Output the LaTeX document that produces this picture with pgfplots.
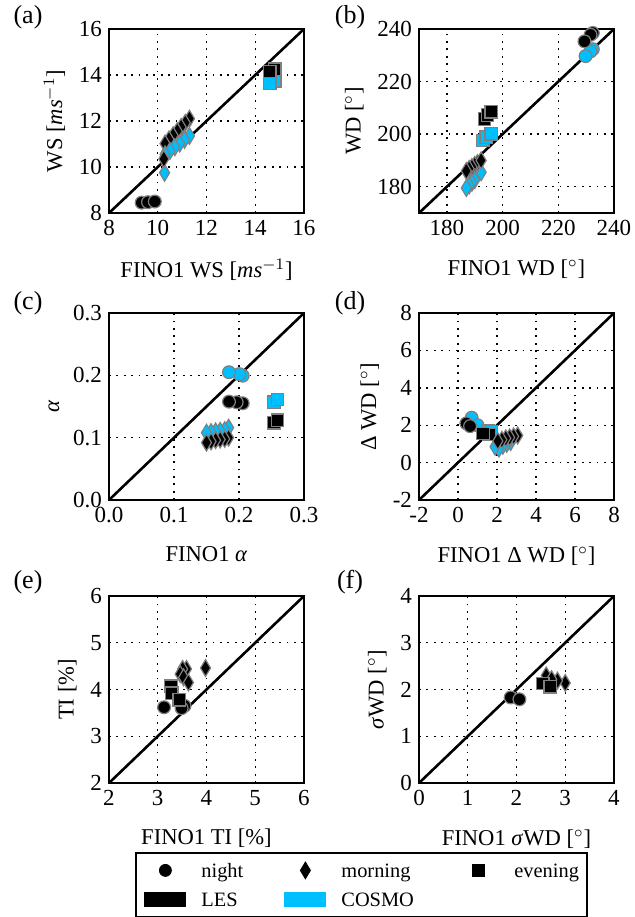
\documentclass[border=0pt]{standalone}
\usepackage{fontspec}
\setmainfont{Liberation Serif}
\usepackage{pgfplots}
\pgfplotsset{compat=1.18}
\definecolor{cosmo}{RGB}{0,191,255}
\pgfplotsset{
  panel/.style={scale only axis, width=97.5pt,
    axis line style={line width=1.4pt},
    grid=major, grid style={black, line width=0.7pt, dash pattern=on 0.9pt off 2.8pt},
    major tick length=0pt,
    tick label style={font=\fontsize{11.5}{13}\selectfont},
    label style={font=\fontsize{11.3}{13}\selectfont},
    xlabel style={yshift=-5pt},
    /pgf/number format/assume math mode=true},
  night/.style={only marks, mark=*, mark size=3.2pt, mark options={draw=black!50, line width=0.6pt, fill=#1}},
  morn/.style={only marks, mark=diamond*, mark size=4.2pt, mark options={draw=black!50, line width=0.6pt, fill=#1, xscale=0.8}},
  eve/.style={only marks, mark=square*, mark size=3.1pt, mark options={draw=black!50, line width=0.6pt, fill=#1}},
  diag/.style={black, line width=1.3pt, no marks},
}
\begin{document}
\begin{tikzpicture}
\path[use as bounding box] (0pt,0pt) rectangle (317pt,-458.5pt);
% panel labels
\begin{scope}[every node/.style={font=\fontsize{13}{15}\selectfont}]
\node at (14pt,-8.5pt) {(a)};
\node at (175pt,-8.5pt) {(b)};
\node at (14pt,-151.5pt) {(c)};
\node at (175pt,-151.5pt) {(d)};
\node at (14pt,-291pt) {(e)};
\node at (175pt,-291pt) {(f)};
\end{scope}
% (a)
\begin{axis}[panel, at={(54.5pt,-106.5pt)}, anchor=south west, height=92pt,
  xmin=8, xmax=16, ymin=8, ymax=16, xtick={8,10,...,16}, ytick={8,10,...,16},
  xlabel={FINO1 WS [\textit{ms}$^{-1}$]}, ylabel={WS [\textit{ms}$^{-1}$]}]
\addplot[night=black] coordinates {(9.34,8.45) (9.6,8.47) (9.88,8.5)};
\addplot[morn=black] coordinates {(11.3,12.1) (11.13,11.92) (10.96,11.74) (10.8,11.56) (10.63,11.38) (10.46,11.2) (10.3,11.02)};
\addplot[morn=cosmo] coordinates {(11.3,11.35) (11.1,11.18) (10.9,11.02) (10.7,10.86) (10.5,10.7) (10.3,10.55) (10.28,9.75)};
\addplot[morn=black] coordinates {(10.25,10.35)};
\addplot[eve=cosmo] coordinates {(14.8,13.75) (14.6,13.65)};
\addplot[eve=black] coordinates {(14.8,14.25) (14.6,14.15)};
\addplot[diag] coordinates {(8,8) (16,16)};
\end{axis}
% (b)
\begin{axis}[panel, at={(209.5pt,-106.5pt)}, anchor=south west, height=92pt,
  xmin=170, xmax=240, ymin=170, ymax=240, xtick={180,200,...,240}, ytick={180,200,...,240},
  xlabel={FINO1 WD [$^\circ$]}, ylabel={WD [$^\circ$]}]
\addplot[night=cosmo] coordinates {(232.4,232.3) (231.6,231.5) (229.8,229.7)};
\addplot[night=black] coordinates {(232.4,238.5) (231.6,237.8) (229.4,235.3)};
\addplot[eve=cosmo] coordinates {(192.9,197.6) (194.1,198.9) (195.9,200.1)};
\addplot[eve=black] coordinates {(193.5,205.8) (194.6,207.3) (195.9,208.5)};
\addplot[morn=cosmo] coordinates {(192.3,185.5) (190,182.5) (189,181.5) (188,180.5) (187,179.5)};
\addplot[morn=black] coordinates {(191,189) (190,188.3) (189,187.5) (188,186.8) (187,186) (192.3,190)};
\addplot[diag] coordinates {(170,170) (240,240)};
\end{axis}
% (c)
\begin{axis}[panel, at={(54.5pt,-250pt)}, anchor=south west, height=93.5pt,
  xmin=0, xmax=0.3, ymin=0, ymax=0.3, xtick={0,0.1,0.2,0.3}, ytick={0,0.1,0.2,0.3},
  /pgf/number format/.cd, fixed, fixed zerofill, precision=1, /pgfplots/.cd,
  xlabel={FINO1 \textit{α}}, ylabel={\textit{α}}]
\addplot[night=cosmo] coordinates {(0.2057,0.1995) (0.2005,0.202) (0.1846,0.205)};
\addplot[night=black] coordinates {(0.2057,0.1552) (0.1964,0.1568) (0.1846,0.1578)};
\addplot[eve=cosmo] coordinates {(0.254,0.157) (0.259,0.161)};
\addplot[eve=black] coordinates {(0.254,0.124) (0.259,0.128)};
\addplot[morn=cosmo] coordinates {(0.184,0.116) (0.178,0.112) (0.171,0.111) (0.164,0.11) (0.157,0.109) (0.15,0.108)};
\addplot[morn=black] coordinates {(0.184,0.1) (0.178,0.098) (0.171,0.097) (0.164,0.096) (0.157,0.094) (0.15,0.092)};
\addplot[diag] coordinates {(0,0) (0.3,0.3)};
\end{axis}
% (d)
\begin{axis}[panel, at={(209.5pt,-250pt)}, anchor=south west, height=93.5pt,
  xmin=-2, xmax=8, ymin=-2, ymax=8, xtick={-2,0,...,8}, ytick={-2,0,...,8},
  xlabel={FINO1 Δ WD [$^\circ$]}, ylabel={Δ WD [$^\circ$]}]
\addplot[night=cosmo] coordinates {(0.7,2.4) (1.0,2.0)};
\addplot[eve=cosmo] coordinates {(1.55,1.7) (1.7,1.65)};
\addplot[morn=cosmo] coordinates {(2.7,1.1) (2.5,1.0) (2.3,0.9) (2.1,0.75) (1.9,0.85)};
\addplot[night=black] coordinates {(0.43,2.1) (0.62,1.95)};
\addplot[eve=black] coordinates {(1.6,1.5) (1.28,1.55)};
\addplot[morn=black] coordinates {(3.06,1.45) (2.85,1.4) (2.65,1.35) (2.45,1.3) (2.25,1.22) (2.04,1.15)};
\addplot[diag] coordinates {(-2,-2) (8,8)};
\end{axis}
% (e)
\begin{axis}[panel, at={(54.5pt,-391.5pt)}, anchor=south west, height=93.5pt,
  xmin=2, xmax=6, ymin=2, ymax=6, xtick={2,...,6}, ytick={2,...,6},
  xlabel={FINO1 TI [\%]}, ylabel={TI [\%]}]
\addplot[night=black] coordinates {(3.55,3.65) (3.49,3.6) (3.13,3.62)};
\addplot[morn=black] coordinates {(3.98,4.46) (3.59,4.44) (3.51,4.44) (3.46,4.33) (3.53,4.26) (3.63,4.15)};
\addplot[eve=black] coordinates {(3.27,4.07) (3.29,3.92) (3.44,3.78)};
\addplot[diag] coordinates {(2,2) (6,6)};
\end{axis}
% (f)
\begin{axis}[panel, at={(209.5pt,-391.5pt)}, anchor=south west, height=93.5pt,
  xmin=0, xmax=4, ymin=0, ymax=4, xtick={0,...,4}, ytick={0,...,4},
  xlabel={FINO1 \textit{σ}WD [$^\circ$]}, ylabel={\textit{σ}WD [$^\circ$]}]
\addplot[morn=black] coordinates {(2.61,2.3) (3.0,2.14) (2.84,2.19) (2.72,2.22)};
\addplot[eve=black] coordinates {(2.54,2.13) (2.69,2.06)};
\addplot[night=black] coordinates {(1.88,1.83) (2.06,1.79)};
\addplot[diag] coordinates {(0,0) (4,4)};
\end{axis}
% legend
\begin{axis}[at={(67.5pt,-426pt)}, anchor=south west, hide axis, scale only axis,
  width=5pt, height=5pt, xmin=0, xmax=1, ymin=0, ymax=1,
  legend columns=3, legend cell align=left,
  legend style={at={(0,0)}, anchor=north west, draw=black, line width=1pt,
    inner xsep=4.2pt, inner ysep=4.5pt, row sep=6.5pt, font=\fontsize{10.2}{11}\selectfont,
    nodes={inner xsep=0pt, inner ysep=0pt, text height=7.5pt, text depth=0.5pt},
    /tikz/every odd column/.append style={column sep=7.5pt}},
  legend image code/.code={\path[draw=none] (0pt,0pt) (21pt,0pt); \draw[#1] plot coordinates {(10.5pt,0pt)};}]
\addlegendimage{black, mark=*, mark size=3pt, line width=0.4pt}
\addlegendimage{black, mark=diamond*, mark size=4.2pt, line width=0.4pt, mark options={xscale=0.8}}
\addlegendimage{black, mark=square*, mark size=3pt, line width=0.4pt}
\addlegendimage{legend image code/.code={\fill[black, draw=none] (0pt,-3.75pt) rectangle (21pt,3.75pt);}}
\addlegendimage{legend image code/.code={\fill[cosmo, draw=none] (0pt,-3.75pt) rectangle (21pt,3.75pt);}}
\legend{\makebox[41.5pt][l]{night}, \makebox[58pt][l]{morning}, evening, \makebox[41.5pt][l]{LES}, \makebox[58pt][l]{COSMO}}
\end{axis}
\end{tikzpicture}
\end{document}
